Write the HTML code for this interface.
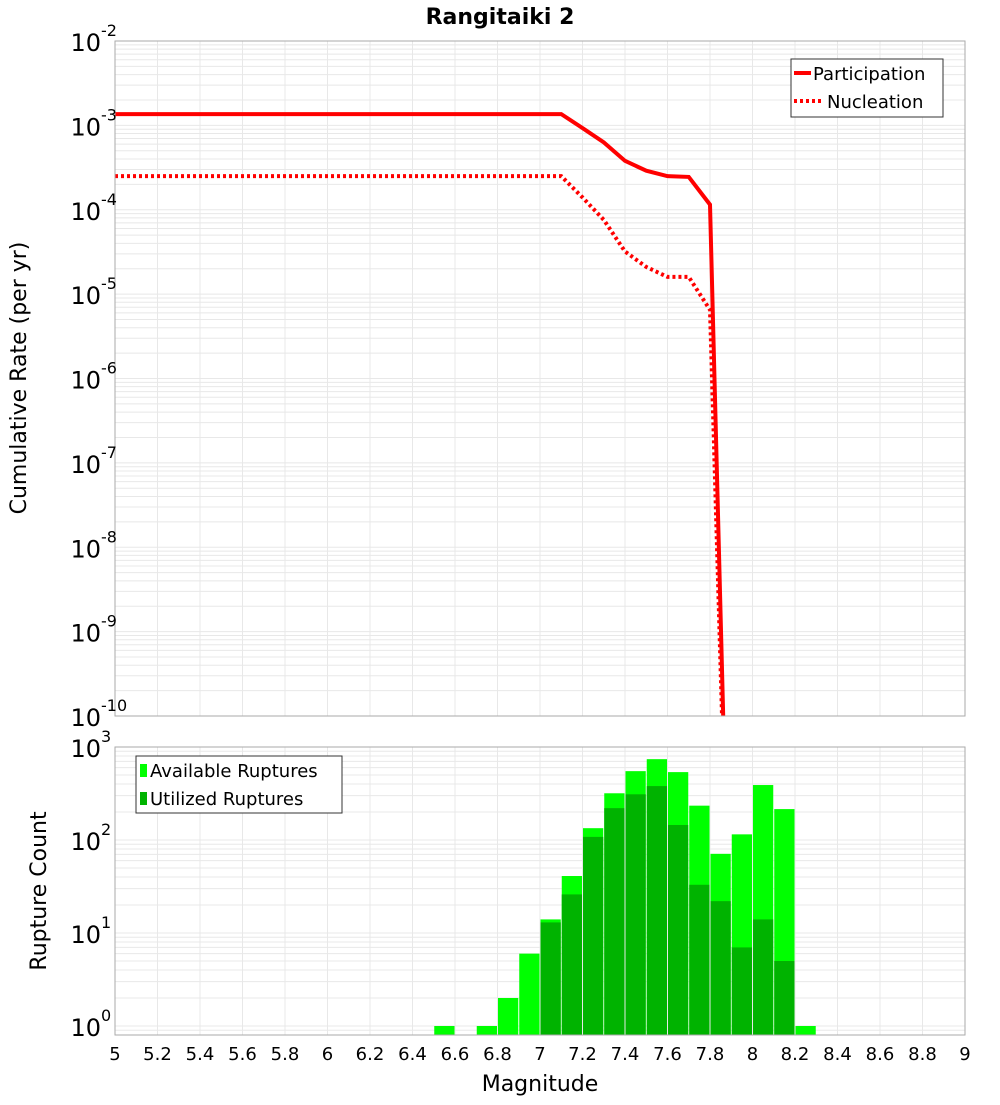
<!DOCTYPE html>
<html><head><meta charset="utf-8"><style>
body{margin:0;background:#fff;font-family:"Liberation Sans","DejaVu Sans",sans-serif}
svg text{font-family:"DejaVu Sans","Liberation Sans",sans-serif}
</style></head><body>
<svg id="c" width="1000" height="1100" xmlns="http://www.w3.org/2000/svg"></svg>
<script>
const mags=[5,5.1,5.2,5.3,5.4,5.5,5.6,5.7,5.8,5.9,6,6.1,6.2,6.3,6.4,6.5,6.6,6.7,6.8,6.9,7,7.1,7.2,7.3,7.4,7.5,7.6,7.7,7.8,7.9];
const partic=[1.36e-3,1.36e-3,1.36e-3,1.36e-3,1.36e-3,1.36e-3,1.36e-3,1.36e-3,1.36e-3,1.36e-3,1.36e-3,1.36e-3,1.36e-3,1.36e-3,1.36e-3,1.36e-3,1.36e-3,1.36e-3,1.36e-3,1.36e-3,1.36e-3,1.36e-3,9.3e-4,6.3e-4,3.8e-4,2.9e-4,2.5e-4,2.45e-4,1.15e-4,2e-14];
const nucl=[2.5e-4,2.5e-4,2.5e-4,2.5e-4,2.5e-4,2.5e-4,2.5e-4,2.5e-4,2.5e-4,2.5e-4,2.5e-4,2.5e-4,2.5e-4,2.5e-4,2.5e-4,2.5e-4,2.5e-4,2.5e-4,2.5e-4,2.5e-4,2.5e-4,2.5e-4,1.4e-4,7.6e-5,3.2e-5,2.1e-5,1.6e-5,1.6e-5,6.5e-6,2e-14];
const binStarts=[6.5,6.7,6.8,6.9,7.0,7.1,7.2,7.3,7.4,7.5,7.6,7.7,7.8,7.9,8.0,8.1,8.2];
const available=[1,1,2,6,14,41,134,318,550,740,537,234,71,115,390,215,1];
const utilized=[0,0,0,0,13,26,108,220,310,380,145,33,22,7,14,5,0];
const xTicks=[5,5.2,5.4,5.6,5.8,6,6.2,6.4,6.6,6.8,7,7.2,7.4,7.6,7.8,8,8.2,8.4,8.6,8.8,9];
const topExps=[-2,-3,-4,-5,-6,-7,-8,-9,-10];
const botExps=[3,2,1,0];

const svg=document.getElementById('c');const NS='http://www.w3.org/2000/svg';
function el(t,a,p){const e=document.createElementNS(NS,t);for(const k in a)e.setAttribute(k,a[k]);(p||svg).appendChild(e);return e;}
const L=115,R=965,T1=41,B1=716,T2=747,B2=1035;
const X=m=>L+(m-5)*(R-L)/4;
const Y1=v=>T1+(-2-Math.log10(v))*(B1-T1)/8;
const Y2=v=>1026-Math.log10(v)*93;
// backgrounds
function grid(g,top,bot,Yf,lo,hi){
 for(let d=lo;d<hi;d++)for(let k=1;k<10;k++){const y=Yf(k*Math.pow(10,d));if(y>=top&&y<=bot){const l=el('line',{x1:L,x2:R,y1:y,y2:y,stroke:'#e8e8e8','stroke-width':1},g);}}
 xTicks.forEach(t=>{const l=el('line',{x1:X(t),x2:X(t),y1:top,y2:bot,stroke:'#e8e8e8'},g);});
}
const g1=el('g',{});
grid(g1,T1,B1,Y1,-10,-2);
const g2=el('g',{});
grid(g2,T2,B2,Y2,-1,3);
// clip
const defs=el('defs',{});const cp=el('clipPath',{id:'cp1'},defs);el('rect',{x:L,y:T1,width:R-L,height:B1-T1},cp);
function pts(arr){return mags.map((m,i)=>X(m)+','+Y1(arr[i])).join(' ');}
const pl=el('polyline',{points:pts(partic),fill:'none',stroke:'#ff0000','stroke-width':4,'clip-path':'url(#cp1)'});

const nl=el('polyline',{points:pts(nucl),fill:'none',stroke:'#ff0000','stroke-width':4,'stroke-dasharray':'3 3','clip-path':'url(#cp1)'});

// bars
const bw=(R-L)/40;
binStarts.forEach((m,i)=>{
 const x=X(m)+0.5,w=bw-1;
 if(available[i]>0){const y=Y2(available[i]);const r=el('rect',{x:x,y:y,width:w,height:B2-y,fill:'#00ff00'});}
 if(utilized[i]>0){const y=Y2(utilized[i]);const r=el('rect',{x:x,y:y,width:w,height:B2-y,fill:'#00b300'});}
});
// frames
[[T1,B1],[T2,B2]].forEach(([t,b])=>{const f=el('rect',{x:L,y:t,width:R-L,height:b-t,fill:'none',stroke:'#aaa'});});
// y labels
function ylab(y,e){const t=el('text',{x:101,y:y+10,'font-size':24,'text-anchor':'end',fill:'#000'});t.textContent='10';
 const s=el('text',{x:101,y:y-5,'font-size':16,fill:'#000'});s.textContent=e;}
topExps.forEach(e=>ylab(Y1(Math.pow(10,e)),e));
botExps.forEach(e=>ylab(Y2(Math.pow(10,e)),e));
// x labels
xTicks.forEach(t=>{const tx=el('text',{x:X(t),y:1060,'font-size':18,'text-anchor':'middle',fill:'#000'});tx.textContent=String(t);});
function txt(s,a,n){const t=el('text',a);t.textContent=s;return t;}
txt('Magnitude',{x:540,y:1091,'font-size':22,'text-anchor':'middle'},'x-axis-title');
txt('Rangitaiki 2',{x:500,y:24,'font-size':22,'font-weight':'bold','text-anchor':'middle'},'chart-title');
txt('Cumulative Rate (per yr)',{x:0,y:0,'font-size':22,'text-anchor':'middle',transform:'translate(26,378) rotate(-90)'},'top-y-axis-title');
txt('Rupture Count',{x:0,y:0,'font-size':22,'text-anchor':'middle',transform:'translate(46,891) rotate(-90)'},'bottom-y-axis-title');
// legends
const lg1=el('g',{});
el('rect',{x:791,y:59,width:152,height:58,fill:'#fff',stroke:'#333'},lg1);
el('line',{x1:794,x2:811,y1:73,y2:73,stroke:'#f00','stroke-width':4},lg1);
el('line',{x1:794,x2:822,y1:101,y2:101,stroke:'#f00','stroke-width':4,'stroke-dasharray':'3 3'},lg1);
txt('Participation',{x:813,y:80,'font-size':18},'legend-participation');
txt('Nucleation',{x:827,y:108,'font-size':18},'legend-nucleation');
const lg2=el('g',{});
el('rect',{x:136,y:756,width:206,height:57,fill:'#fff',stroke:'#333'},lg2);
el('rect',{x:140,y:764,width:7,height:13,fill:'#00ff00'},lg2);
el('rect',{x:140,y:792,width:7,height:13,fill:'#00b300'},lg2);
txt('Available Ruptures',{x:150,y:777,'font-size':18},'legend-available');
txt('Utilized Ruptures',{x:150,y:805,'font-size':18},'legend-utilized');
</script>
</body></html>
